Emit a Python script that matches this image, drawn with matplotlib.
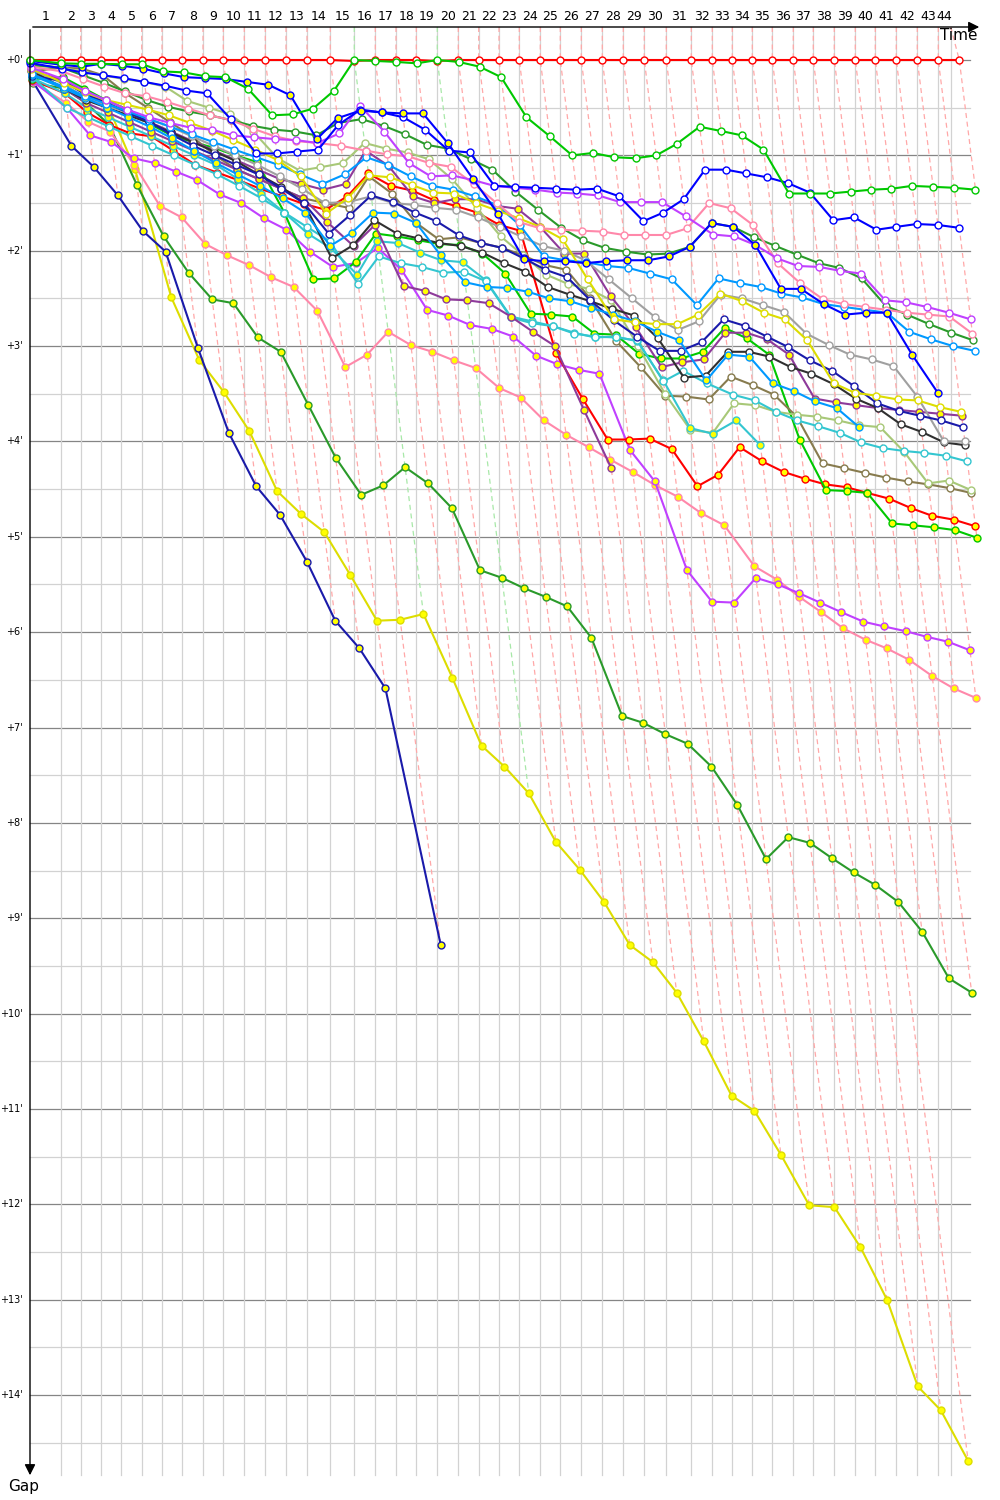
import matplotlib
matplotlib.use("Agg")
import matplotlib.pyplot as plt

# leader lap times (minutes from start), laps 1..44
leader_times = [2.580, 4.261, 5.966, 7.672, 9.387, 11.092, 12.798, 14.538, 16.244, 18.008,
                19.773, 21.513, 23.277, 25.235, 27.252, 29.017, 30.756, 32.462, 34.227, 35.992,
                37.706, 39.412, 41.118, 42.882, 44.563, 46.328, 48.092, 49.857, 51.622, 53.471,
                55.571, 57.336, 59.017, 60.697, 62.378, 64.143, 65.824, 67.588, 69.353, 71.034,
                72.798, 74.563, 76.328, 78.092]
race_end = 77.37
green_lead_laps = [15, 19]
lap_labels = [str(i) for i in range(1, 45)]

# gaps to leader (minutes), one value per lap starting at lap 0
red_lead = [0.0] * 45
red_lead[15] = 0.01
red_lead[19] = 0.01
green_w = [0.0, 0.035, 0.04, 0.04, 0.045, 0.045, 0.12, 0.13, 0.17, 0.18, 0.30, 0.58, 0.57, 0.51, 0.32,
           0.0, 0.01, 0.02, 0.035, 0.0, 0.02, 0.07, 0.18, 0.60, 0.80, 1.00, 0.975, 1.02, 1.03, 1.00,
           0.88, 0.70, 0.745, 0.79, 0.94, 1.40, 1.40, 1.40, 1.38, 1.36, 1.35, 1.32, 1.33, 1.34, 1.36]
blue_y = [0.01, 0.05, 0.07, 0.04, 0.06, 0.09, 0.14, 0.18, 0.19, 0.20, 0.23, 0.26, 0.37, 0.83, 0.61,
          0.53, 0.55, 0.56, 0.56, 0.87, 1.25, 1.61, 2.09, 2.11, 2.11, 2.13, 2.11, 2.10, 2.10, 2.06,
          1.96, 1.71, 1.75, 1.94, 2.40, 2.40, 2.56, 2.67, 2.65, 2.65, 3.09, 3.49]
blue_w = [0.03, 0.09, 0.13, 0.16, 0.19, 0.23, 0.27, 0.32, 0.35, 0.62, 0.98, 0.98, 0.96, 0.94, 0.68,
          0.52, 0.55, 0.60, 0.73, 0.95, 0.97, 1.32, 1.33, 1.34, 1.35, 1.36, 1.35, 1.43, 1.69, 1.60,
          1.46, 1.15, 1.15, 1.19, 1.23, 1.29, 1.39, 1.68, 1.65, 1.78, 1.75, 1.72, 1.73, 1.76]
dkgreen_w = [0.05, 0.08, 0.16, 0.24, 0.33, 0.42, 0.49, 0.54, 0.58, 0.63, 0.69, 0.73, 0.75, 0.79, 0.66,
             0.62, 0.69, 0.78, 0.89, 0.93, 1.04, 1.15, 1.38, 1.57, 1.76, 1.89, 1.97, 2.01, 2.04, 2.03,
             1.96, 1.71, 1.75, 1.86, 1.95, 2.04, 2.13, 2.18, 2.29, 2.58, 2.67, 2.77, 2.86, 2.94]
olive_lt = [0.06, 0.08, 0.12, 0.16, 0.20, 0.23, 0.28, 0.43, 0.50, 0.57, 0.75, 1.03, 1.16, 1.125, 1.08,
            0.87, 0.93, 0.97, 1.04, 1.25, 1.55, 1.85, 2.05, 2.25, 2.35, 2.40, 2.52, 3.0, 3.5, 3.88,
            3.91, 3.60, 3.62, 3.69, 3.72, 3.74, 3.78, 3.83, 3.85, 4.11, 4.44, 4.41, 4.51]
pink_w = [0.07, 0.12, 0.2, 0.28, 0.35, 0.38, 0.44, 0.51, 0.58, 0.63, 0.72, 0.80, 0.85, 0.87, 0.90,
          0.95, 0.99, 1.01, 1.08, 1.12, 1.30, 1.50, 1.70, 1.765, 1.78, 1.79, 1.80, 1.835, 1.835, 1.835,
          1.765, 1.50, 1.555, 1.73, 2.13, 2.34, 2.51, 2.56, 2.59, 2.62, 2.65, 2.67, 2.69, 2.87]
mag_w = [0.08, 0.2, 0.32, 0.42, 0.52, 0.6, 0.66, 0.71, 0.73, 0.79, 0.81, 0.83, 0.84, 0.87, 0.77,
         0.48, 0.75, 1.08, 1.22, 1.21, 1.26, 1.32, 1.34, 1.36, 1.39, 1.40, 1.42, 1.49, 1.49, 1.49,
         1.64, 1.83, 1.85, 1.94, 2.08, 2.16, 2.17, 2.21, 2.24, 2.52, 2.54, 2.59, 2.65, 2.72]
yellow_w = [0.09, 0.24, 0.34, 0.42, 0.47, 0.52, 0.58, 0.66, 0.74, 0.84, 0.94, 1.05, 1.22, 1.61, 1.45,
            1.21, 1.23, 1.31, 1.39, 1.40, 1.50, 1.58, 1.66, 1.75, 1.88, 2.3, 2.72, 2.75, 2.77, 2.77,
            2.67, 2.45, 2.53, 2.65, 2.72, 2.94, 3.39, 3.49, 3.52, 3.56, 3.57, 3.64, 3.69]
gray_w = [0.1, 0.25, 0.4, 0.48, 0.55, 0.62, 0.7, 0.8, 0.9, 1.0, 1.1, 1.22, 1.35, 1.5, 1.49,
          1.43, 1.5, 1.52, 1.55, 1.57, 1.65, 1.75, 1.85, 1.95, 2.0, 2.1, 2.3, 2.5, 2.7, 2.83,
          2.74, 2.46, 2.50, 2.57, 2.64, 2.87, 2.99, 3.09, 3.14, 3.21, 3.53, 4.0, 4.0]
black_w = [0.11, 0.3, 0.42, 0.5, 0.58, 0.66, 0.76, 0.86, 0.96, 1.06, 1.2, 1.33, 1.5, 2.08, 1.94,
           1.68, 1.82, 1.87, 1.92, 1.95, 2.02, 2.13, 2.22, 2.38, 2.46, 2.53, 2.61, 2.68, 2.92, 3.33,
           3.31, 3.06, 3.06, 3.11, 3.22, 3.29, 3.40, 3.55, 3.65, 3.82, 3.90, 4.01, 4.04]
olive_dk = [0.12, 0.08, 0.09, 0.16, 0.35, 0.5, 0.65, 0.8, 1.0, 1.15, 1.25, 1.35, 1.45, 1.5, 1.55,
            1.22, 1.40, 1.71, 1.88, 1.86, 1.92, 1.97, 2.05, 2.15, 2.2, 2.5, 2.95, 3.22, 3.52, 3.53,
            3.56, 3.32, 3.41, 3.51, 3.74, 4.23, 4.28, 4.33, 4.38, 4.42, 4.45, 4.49, 4.54]
purple_a = [0.13, 0.2, 0.35, 0.45, 0.55, 0.65, 0.75, 0.85, 0.95, 1.05, 1.15, 1.25, 1.3, 1.36, 1.3,
            0.95, 1.11, 1.43, 1.50, 1.46, 1.46, 1.53, 1.56, 1.75, 2.03, 2.03, 2.48, 2.80, 3.22, 3.17,
            3.14, 2.86, 2.86, 2.93, 3.09, 3.55, 3.59, 3.62, 3.65, 3.67, 3.69, 3.71, 3.73]
purple_b = [0.14, 0.3, 0.45, 0.55, 0.65, 0.75, 0.85, 0.95, 1.05, 1.15, 1.25, 1.35, 1.45, 1.7, 1.95,
            1.73, 2.37, 2.42, 2.51, 2.52, 2.55, 2.69, 2.85, 3.0, 3.67, 4.28]
dodger_w = [0.15, 0.28, 0.38, 0.46, 0.54, 0.62, 0.7, 0.78, 0.86, 0.94, 1.02, 1.1, 1.2, 1.3, 1.2,
            1.02, 1.10, 1.22, 1.32, 1.36, 1.43, 1.52, 1.73, 2.06, 2.1, 2.12, 2.16, 2.18, 2.24, 2.30,
            2.57, 2.29, 2.34, 2.38, 2.45, 2.49, 2.56, 2.59, 2.62, 2.65, 2.85, 2.93, 3.0, 3.05]
dodger_y = [0.16, 0.3, 0.4, 0.5, 0.6, 0.7, 0.82, 0.95, 1.08, 1.2, 1.32, 1.45, 1.6, 1.95, 1.81,
            1.60, 1.61, 1.71, 2.05, 2.33, 2.38, 2.39, 2.43, 2.50, 2.53, 2.60, 2.67, 2.74, 2.85, 2.94,
            3.36, 3.09, 3.11, 3.39, 3.47, 3.58, 3.65, 3.85]
navy_w = [0.17, 0.22, 0.36, 0.45, 0.55, 0.65, 0.78, 0.9, 1.0, 1.1, 1.2, 1.35, 1.5, 1.82, 1.63,
          1.42, 1.49, 1.6, 1.69, 1.84, 1.92, 1.97, 2.08, 2.20, 2.28, 2.52, 2.73, 2.9, 3.05, 3.05,
          2.96, 2.72, 2.79, 2.90, 3.01, 3.15, 3.26, 3.42, 3.60, 3.68, 3.73, 3.78, 3.85]
cyan_w = [0.18, 0.5, 0.6, 0.7, 0.8, 0.9, 1.0, 1.1, 1.2, 1.32, 1.45, 1.6, 1.75, 1.90, 2.35,
          2.06, 2.13, 2.17, 2.23, 2.22, 2.32, 2.70, 2.76, 2.79, 2.87, 2.90, 2.91, 2.94, 3.37, 3.26,
          3.39, 3.51, 3.57, 3.69, 3.78, 3.84, 3.91, 4.01, 4.07, 4.10, 4.12, 4.15, 4.21]
cyan_y = [0.19, 0.35, 0.5, 0.6, 0.7, 0.8, 0.9, 1.0, 1.1, 1.25, 1.4, 1.6, 1.82, 1.97, 2.25,
          1.90, 1.92, 2.02, 2.10, 2.12, 2.31, 2.69, 2.74, 2.79, 2.86, 2.91, 2.90, 2.95, 3.36, 3.86,
          3.92, 3.78, 4.04]
green_y = [0.2, 0.18, 0.3, 0.42, 0.52, 0.67, 0.79, 0.86, 0.92, 1.0, 1.07, 1.6, 2.30, 2.29, 2.12,
           1.82, 1.85, 1.89, 1.93, 1.94, 2.03, 2.24, 2.66, 2.67, 2.69, 2.87, 2.88, 3.08, 3.13, 3.13,
           3.06, 2.81, 2.92, 3.09, 3.98, 4.51, 4.52, 4.54, 4.86, 4.88, 4.90, 4.93, 5.01]
red_y = [0.21, 0.35, 0.55, 0.68, 0.77, 0.80, 0.95, 1.10, 1.18, 1.26, 1.35, 1.43, 1.51, 1.57, 1.43,
         1.19, 1.32, 1.37, 1.47, 1.53, 1.60, 1.73, 1.79, 3.07, 3.55, 3.98, 3.98, 3.97, 4.08, 4.47,
         4.35, 4.06, 4.21, 4.32, 4.39, 4.45, 4.48, 4.54, 4.60, 4.70, 4.78, 4.82, 4.89]
mag_y = [0.22, 0.5, 0.79, 0.86, 1.03, 1.08, 1.17, 1.26, 1.41, 1.50, 1.66, 1.78, 2.01, 2.17, 2.13,
         1.97, 2.20, 2.62, 2.68, 2.78, 2.82, 2.90, 3.10, 3.19, 3.25, 3.29, 4.09, 4.42, 5.35, 5.68,
         5.69, 5.43, 5.50, 5.59, 5.69, 5.79, 5.89, 5.94, 5.99, 6.05, 6.10, 6.19]
pink_y = [0.23, 0.45, 0.65, 0.75, 1.1, 1.53, 1.65, 1.93, 2.05, 2.15, 2.28, 2.38, 2.63, 3.22, 3.09,
          2.85, 2.99, 3.06, 3.15, 3.23, 3.44, 3.54, 3.78, 3.93, 4.06, 4.19, 4.32, 4.46, 4.58, 4.75,
          4.88, 5.31, 5.45, 5.63, 5.79, 5.96, 6.08, 6.17, 6.29, 6.46, 6.59, 6.69]
dkgreen_y = [0.24, 0.3, 0.45, 0.68, 1.31, 1.85, 2.23, 2.51, 2.55, 2.91, 3.06, 3.62, 4.17, 4.56, 4.46,
             4.27, 4.44, 4.70, 5.35, 5.43, 5.54, 5.63, 5.73, 6.06, 6.88, 6.95, 7.07, 7.17, 7.41, 7.81,
             8.38, 8.15, 8.21, 8.37, 8.52, 8.65, 8.83, 9.14, 9.63, 9.78]
yellow_y = [0.15, 0.2, 0.31, 0.44, 1.14, 2.49, 3.15, 3.48, 3.89, 4.52, 4.76, 4.95, 5.40, 5.88, 5.87,
            5.81, 6.48, 7.19, 7.41, 7.69, 8.20, 8.49, 8.83, 9.28, 9.46, 9.78, 10.29, 10.86, 11.02, 11.48,
            12.01, 12.03, 12.45, 13.0, 13.91, 14.16, 14.69]
navy_y = [0.22, 0.90, 1.125, 1.42, 1.79, 2.01, 3.02, 3.91, 4.47, 4.77, 5.26, 5.88, 6.17, 6.59, 9.28]

YEL = '#ffff00'
series = [
    (red_lead, '#ff0000', 'w'),
    (yellow_y, '#dddd00', YEL),
    (dkgreen_y, '#2a9a2a', YEL),
    (navy_y, '#1a1aaa', YEL),
    (pink_y, '#ff88aa', YEL),
    (mag_y, '#c040ff', YEL),
    (red_y, '#ff0000', YEL),
    (green_y, '#00c800', YEL),
    (olive_dk, '#877b4e', 'w'),
    (olive_lt, '#a8c878', 'w'),
    (cyan_y, '#33c6d0', YEL),
    (cyan_w, '#33c6d0', 'w'),
    (purple_b, '#8e3a9a', YEL),
    (purple_a, '#8e3a9a', YEL),
    (black_w, '#303030', 'w'),
    (gray_w, '#a0a0a0', 'w'),
    (navy_w, '#1a1aaa', 'w'),
    (dodger_y, '#0099ff', YEL),
    (dodger_w, '#0099ff', 'w'),
    (yellow_w, '#dddd00', 'w'),
    (dkgreen_w, '#2a9a2a', 'w'),
    (pink_w, '#ff88aa', 'w'),
    (mag_w, '#c040ff', 'w'),
    (blue_w, '#0000ff', 'w'),
    (blue_y, '#0000ff', YEL),
    (green_w, '#00c800', 'w'),
]

PXX = 11.9      # pixels per minute, horizontal
PXY = 95.36     # pixels per minute, vertical
X0, Y0 = 30, 60


def lap_time(n):
    return 0.0 if n == 0 else leader_times[n - 1]


fig = plt.figure(figsize=(10, 15), dpi=100)
ax = fig.add_axes([0, 0, 1, 1])
ax.set_xlim(-X0 / PXX, (1000 - X0) / PXX)
ax.set_ylim((1500 - Y0) / PXY, -Y0 / PXY)
ax.axis('off')

top = (27 - Y0) / PXY
bottom = (1475 - Y0) / PXY
xright = (970 - X0) / PXX

# horizontal grid
for k in range(0, 30):
    g = k * 0.5
    col = '#858585' if k % 2 == 0 else '#d2d2d2'
    ax.plot([0, xright], [g, g], color=col, lw=0.9, zorder=1)
    if k % 2 == 0:
        ax.text(-7 / PXX, g, "+%d'" % (k // 2), ha='right', va='center', fontsize=7, zorder=5)

# vertical grid at leader lap times
for t in leader_times[:43] + [race_end]:
    ax.plot([t, t], [top, bottom], color='#d2d2d2', lw=0.9, zorder=1)

# lap labels
grid_x = [0.0] + leader_times[:43] + [race_end]
for i, lab in enumerate(lap_labels):
    ax.text((grid_x[i] + grid_x[i + 1]) / 2, (17 - Y0) / PXY, lab, ha='center', va='center', fontsize=9)

# lap lines (dashed)
for n in range(1, 45):
    gmax = 0.0
    for s, c, f in series:
        if len(s) > n:
            gmax = max(gmax, s[n])
    t = lap_time(n)
    col = '#a8e8a8' if n in green_lead_laps else '#ffa8a8'
    ax.plot([grid_x[n], t, t + gmax], [top, 0, gmax], color=col, lw=0.9,
            linestyle=(0, (4, 3)), zorder=2)

# driver series
for s, c, f in series:
    xs = [lap_time(n) + g for n, g in enumerate(s)]
    ax.plot(xs, s, color=c, lw=1.5, marker='o', ms=5, mfc=f, mec=c, mew=1.0, zorder=3)

# axes arrows
ax.annotate('', xy=((982 - X0) / PXX, top), xytext=(0, top),
            arrowprops=dict(arrowstyle='-|>', color='black', lw=1.0, mutation_scale=16), zorder=6)
ax.annotate('', xy=(0, (1478 - Y0) / PXY), xytext=(0, top),
            arrowprops=dict(arrowstyle='-|>', color='black', lw=1.0, mutation_scale=16), zorder=6)
ax.text((978 - X0) / PXX, (36 - Y0) / PXY, 'Time', ha='right', va='center', fontsize=11)
ax.text((24 - X0) / PXX, (1486 - Y0) / PXY, 'Gap', ha='center', va='center', fontsize=11)

fig.savefig('out.png', dpi=100)
